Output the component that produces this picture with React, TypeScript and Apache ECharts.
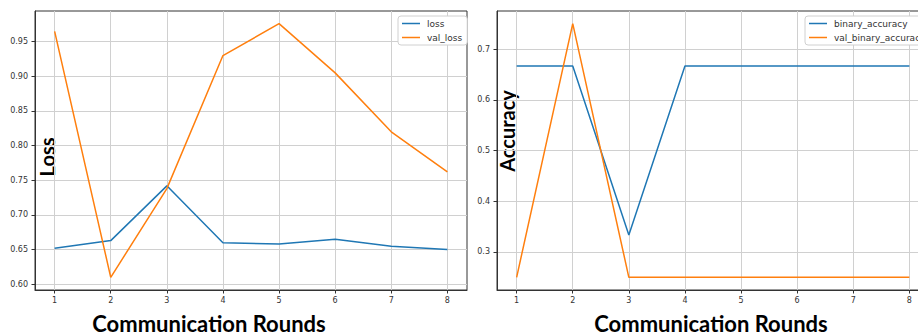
import React, { useEffect, useRef } from "react";
import * as echarts from "echarts";

const rounds = [1, 2, 3, 4, 5, 6, 7, 8];
const loss = [0.652, 0.663, 0.742, 0.66, 0.658, 0.665, 0.655, 0.65];
const valLoss = [0.965, 0.61, 0.738, 0.93, 0.976, 0.905, 0.82, 0.762];
const binaryAccuracy = [0.6667, 0.6667, 0.3333, 0.6667, 0.6667, 0.6667, 0.6667, 0.6667];
const valBinaryAccuracy = [0.25, 0.75, 0.25, 0.25, 0.25, 0.25, 0.25, 0.25];
const lossTicks = [0.6, 0.65, 0.7, 0.75, 0.8, 0.85, 0.9, 0.95];
const accTicks = [0.3, 0.4, 0.5, 0.6, 0.7];

const BLUE = "#1f77b4";
const ORANGE = "#ff7f0e";
const TICK_FONT = "DejaVu Sans";

function pairs(ys: number[]) {
  return rounds.map((r, i) => [r, ys[i]]);
}

export default function App() {
  const ref = useRef<HTMLDivElement>(null);
  useEffect(() => {
    document.body.style.margin = "0";
    const chart = echarts.init(ref.current!, null, { renderer: "svg" });
    const xAxisBase = (gridIndex: number) => ({
      type: "value" as const,
      gridIndex,
      min: 0.65,
      max: 8.35,
      axisLine: { show: true, lineStyle: { color: "#333", width: 1 } },
      axisTick: { show: true, length: 3.5, customValues: rounds, lineStyle: { color: "#333" } },
      axisLabel: { customValues: rounds, fontSize: 8, color: "#333", fontFamily: TICK_FONT, margin: 6 },
      splitLine: { show: true, lineStyle: { color: "#d0d0d0", width: 1 } },
    });
    const yAxisBase = (gridIndex: number, min: number, max: number, ticks: number[], digits: number) => ({
      type: "value" as const,
      gridIndex,
      min,
      max,
      axisLine: { show: true, lineStyle: { color: "#333", width: 1 } },
      axisTick: { show: true, length: 3.5, customValues: ticks, lineStyle: { color: "#333" } },
      axisLabel: {
        customValues: ticks,
        fontSize: 8,
        color: "#333",
        fontFamily: TICK_FONT,
        margin: 7,
        formatter: (v: number) => v.toFixed(digits),
      },
      splitLine: { show: true, lineStyle: { color: "#d0d0d0", width: 1 } },
    });
    const legendBase = {
      orient: "vertical" as const,
      top: 16,
      icon: "rect",
      itemWidth: 18,
      itemHeight: 1.5,
      itemGap: 3,
      padding: [2, 5, 2, 4],
      borderColor: "#d0d0d0",
      borderWidth: 1,
      borderRadius: 3,
      backgroundColor: "#fff",
      textStyle: { fontSize: 9, lineHeight: 11, color: "#333", fontFamily: TICK_FONT, padding: [0, 0, 0, 2] },
    };
    const lineSeries = (name: string, data: number[], color: string, idx: number) => ({
      type: "line" as const,
      name,
      xAxisIndex: idx,
      yAxisIndex: idx,
      data: pairs(data),
      showSymbol: false,
      symbol: "none",
      color,
      lineStyle: { color, width: 1.5 },
    });
    chart.setOption({
      animation: false,
      grid: [
        { left: 35, top: 11, width: 432, height: 279, show: true, borderColor: "#333", borderWidth: 1, backgroundColor: "transparent" },
        { left: 497, top: 11, width: 432, height: 279, show: true, borderColor: "#333", borderWidth: 1, backgroundColor: "transparent" },
      ],
      xAxis: [xAxisBase(0), xAxisBase(1)],
      yAxis: [
        yAxisBase(0, 0.5917, 0.9943, lossTicks, 2),
        yAxisBase(1, 0.225, 0.775, accTicks, 1),
      ],
      legend: [
        { ...legendBase, left: 398, data: ["loss", "val_loss"] },
        { ...legendBase, left: 805, data: ["binary_accuracy", "val_binary_accuracy"] },
      ],
      series: [
        lineSeries("loss", loss, BLUE, 0),
        lineSeries("val_loss", valLoss, ORANGE, 0),
        lineSeries("binary_accuracy", binaryAccuracy, BLUE, 1),
        lineSeries("val_binary_accuracy", valBinaryAccuracy, ORANGE, 1),
      ],
      graphic: [
        {
          type: "text",
          x: 47,
          y: 157,
          rotation: Math.PI / 2,
          style: { text: "Loss", font: "bold 20px Lato", fill: "#000", textAlign: "center", textVerticalAlign: "middle" },
        },
        {
          type: "text",
          x: 507,
          y: 131,
          rotation: Math.PI / 2,
          style: { text: "Accuracy", font: "bold 20px Lato", fill: "#000", textAlign: "center", textVerticalAlign: "middle" },
        },
        {
          type: "text",
          x: 209,
          y: 334,
          style: { text: "Communication Rounds", font: "bold 22px Lato", fill: "#000", textAlign: "center", textVerticalAlign: "bottom" },
        },
        {
          type: "text",
          x: 711,
          y: 334,
          style: { text: "Communication Rounds", font: "bold 22px Lato", fill: "#000", textAlign: "center", textVerticalAlign: "bottom" },
        },
      ],
    });
    return () => chart.dispose();
  }, []);
  return (
    <div style={{ width: 918, height: 335, overflow: "hidden", position: "relative" }}>
      <div ref={ref} style={{ width: 945, height: 335 }} />
    </div>
  );
}
